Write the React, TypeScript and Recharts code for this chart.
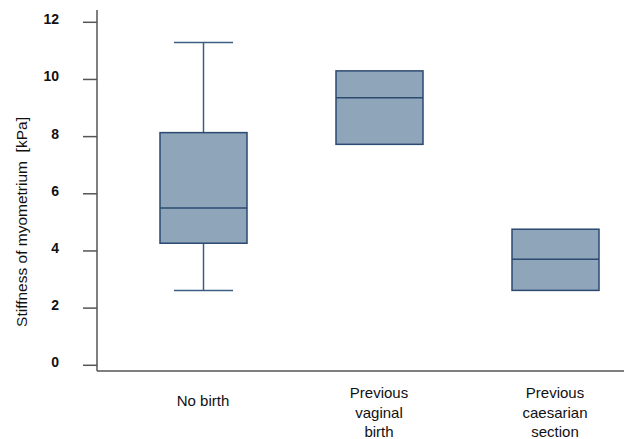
import React from "react"
import { ComposedChart, Bar, XAxis, YAxis } from "recharts"

// box plot values (kPa)
const groups = ["No birth", "Previous vaginal birth", "Previous caesarian section"]
const groupLines = [["No birth"], ["Previous", "vaginal", "birth"], ["Previous", "caesarian", "section"]]
const mins = [2.62, 7.73, 2.62]
const q1s = [4.27, 7.73, 2.62]
const medians = [5.5, 9.36, 3.71]
const q3s = [8.14, 10.3, 4.76]
const maxs = [11.29, 10.3, 4.76]
const yTicks = [-0.2, 0, 2, 4, 6, 8, 10, 12]
const yTitle = "Stiffness of myometrium  [kPa]"

const data = groups.map((name, i) => ({
  name,
  range: [mins[i], maxs[i]],
  min: mins[i],
  q1: q1s[i],
  median: medians[i],
  q3: q3s[i],
  max: maxs[i],
}))

const FILL = "#8fa5ba"
const EDGE = "#2b4a70"
const WHISK = "#3d5d84"

const BoxShape = (props: any) => {
  const { x, y, width, height, payload } = props
  const { min, q1, median, q3, max } = payload
  const span = max - min
  const toY = (v: number) => (span === 0 ? y : y + (height * (max - v)) / span)
  const cx = x + width / 2
  const capW = 59
  const hasWhiskers = q1 !== min || q3 !== max
  return (
    <g>
      {hasWhiskers && (
        <g stroke={WHISK} strokeWidth={1.5}>
          <line x1={cx} x2={cx} y1={toY(max)} y2={toY(q3)} />
          <line x1={cx} x2={cx} y1={toY(q1)} y2={toY(min)} />
          <line x1={cx - capW / 2} x2={cx + capW / 2} y1={toY(max)} y2={toY(max)} />
          <line x1={cx - capW / 2} x2={cx + capW / 2} y1={toY(min)} y2={toY(min)} />
        </g>
      )}
      <rect x={x} y={toY(q3)} width={width} height={toY(q1) - toY(q3)} fill={FILL} stroke={EDGE} strokeWidth={1.5} />
      <line x1={x} x2={x + width} y1={toY(median)} y2={toY(median)} stroke={EDGE} strokeWidth={1.5} />
    </g>
  )
}

const YTick = (props: any) => {
  const { x, y, payload } = props
  if (payload.value < 0) return null
  return (
    <text x={x} y={y - 3} dy="0.355em" textAnchor="end" fontSize={14} fontWeight="bold" fill="#111">
      {payload.value}
    </text>
  )
}

const YTitle = (props: any) => {
  const vb = props.viewBox || { x: 0, y: 10 }
  const tx = vb.x + 21
  const ty = vb.y + 212
  return (
    <text
      x={tx}
      y={ty}
      dy="0.355em"
      textAnchor="middle"
      fontSize={15.5}
      fill="#111"
      transform={`rotate(-90, ${tx}, ${ty})`}
      style={{ whiteSpace: "pre" }}
    >
      {yTitle}
    </text>
  )
}

const XTick = (props: any) => {
  const { x, payload } = props
  const lines = groupLines[payload.index] || [payload.value]
  const startY = lines.length === 1 ? 401 : 392.5
  return (
    <text textAnchor="middle" fontSize={15} fill="#111">
      {lines.map((l, i) => (
        <tspan key={i} x={x} y={startY + i * 19.7} dy="0.355em">
          {l}
        </tspan>
      ))}
    </text>
  )
}

export default function App() {
  return (
    <div style={{ position: "absolute", left: 0, top: 0, width: 624, height: 439, overflow: "hidden", background: "#fff" }}>
      <ComposedChart
        width={643}
        height={439}
        data={data}
        margin={{ top: 10, right: 0, left: 0, bottom: 0 }}
        style={{ fontFamily: "Liberation Sans, Arial, sans-serif" }}
      >
        <XAxis
          dataKey="name"
          height={68}
          padding={{ left: 18, right: 0 }}
          tickLine={false}
          axisLine={{ stroke: "#555", strokeWidth: 1.5 }}
          tick={<XTick />}
          interval={0}
        />
        <YAxis
          width={97}
          domain={[-0.2, 12.43]}
          ticks={yTicks}
          allowDataOverflow
          tickSize={14}
          tickMargin={24}
          axisLine={{ stroke: "#555", strokeWidth: 1.5 }}
          tickLine={{ stroke: "#555", strokeWidth: 1.5 }}
          tick={<YTick />}
          label={<YTitle />}
        />
        <Bar dataKey="range" barSize={87} shape={<BoxShape />} isAnimationActive={false} />
      </ComposedChart>
    </div>
  )
}
